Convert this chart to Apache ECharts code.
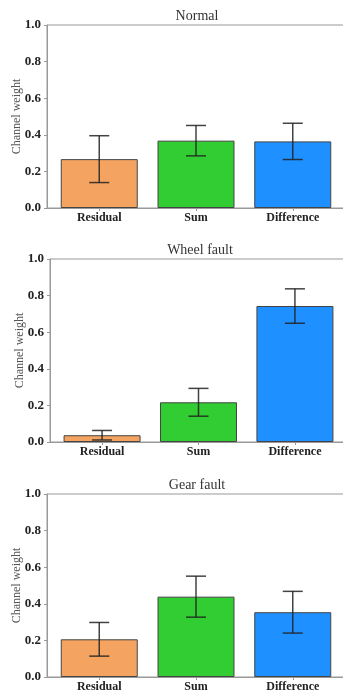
<!DOCTYPE html>
<html>
<head>
<meta charset="utf-8">
<script src="https://cdn.jsdelivr.net/npm/echarts@6/dist/echarts.min.js"></script>
<style>
  html, body { margin: 0; padding: 0; background: #fff; }
  #main { width: 343px; height: 693px; }
</style>
</head>
<body>
<div id="main"></div>
<script>
// categories and values
const categories = ["Residual", "Sum", "Difference"];
const titles = ["Normal", "Wheel fault", "Gear fault"];
const normalMean = [0.267, 0.368, 0.364];
const normalStd = [0.128, 0.083, 0.099];
const wheelMean = [0.037, 0.217, 0.743];
const wheelStd = [0.026, 0.076, 0.094];
const gearMean = [0.206, 0.439, 0.354];
const gearStd = [0.092, 0.112, 0.114];

const barColors = ["#F4A460", "#32CD32", "#1E90FF"];
const font = "'Liberation Serif', 'DejaVu Serif', serif";
const axisColor = "#999";

const panels = [
  { mean: normalMean, std: normalStd, left: 47, top: 25, right: -2 },
  { mean: wheelMean, std: wheelStd, left: 50, top: 259, right: -4 },
  { mean: gearMean, std: gearStd, left: 47, top: 494, right: -2 },
];

const option = {
  animation: false,
  title: [],
  grid: [],
  xAxis: [],
  yAxis: [],
  series: [],
};

panels.forEach((p, k) => {
  option.grid.push({
    left: p.left,
    top: p.top,
    right: p.right,
    height: 183,
    outerBoundsMode: "none",
    show: true,
    borderColor: axisColor,
    borderWidth: 1,
  });
  // 子图标题
  option.title.push({
    text: titles[k],
    left: p.left + 145,
    top: p.top - 21,
    textAlign: "center",
    textStyle: { fontFamily: font, fontSize: 14, fontWeight: "normal", color: "#333" },
  });
  option.xAxis.push({
    type: "value",
    gridIndex: k,
    min: -0.54,
    max: 2.54,
    splitLine: { show: false },
    axisLine: { onZero: false, lineStyle: { color: axisColor } },
    axisTick: { customValues: [0, 1, 2], length: 3, lineStyle: { color: axisColor } },
    axisLabel: {
      customValues: [0, 1, 2],
      formatter: (v) => categories[Math.round(v)],
      fontFamily: font,
      fontSize: 12,
      fontWeight: "bold",
      color: "#222",
      margin: 4,
    },
  });
  option.yAxis.push({
    type: "value",
    gridIndex: k,
    min: 0,
    max: 1,
    interval: 0.2,
    name: "Channel weight",
    nameLocation: "middle",
    nameGap: 24,
    nameMoveOverlap: false,
    nameTextStyle: { fontFamily: font, fontSize: 12, color: "#555" },
    splitLine: { show: false },
    axisLine: { show: true, onZero: false, lineStyle: { color: axisColor } },
    axisTick: { show: true, length: 3, lineStyle: { color: axisColor } },
    axisLabel: {
      formatter: (v) => v.toFixed(1),
      fontFamily: font,
      fontSize: 13,
      fontWeight: "bold",
      color: "#222",
      margin: 6,
    },
  });
  option.series.push({
    type: "bar",
    xAxisIndex: k,
    yAxisIndex: k,
    barWidth: 77,
    data: p.mean.map((v, i) => ({
      value: [i, v],
      itemStyle: { color: barColors[i], borderColor: "#444", borderWidth: 1 },
    })),
  });
  // 误差棒
  option.series.push({
    type: "custom",
    xAxisIndex: k,
    yAxisIndex: k,
    data: p.mean.map((v, i) => [i, v, p.std[i]]),
    renderItem: (params, api) => {
      const x = api.value(0);
      const m = api.value(1);
      const s = api.value(2);
      const hi = api.coord([x, m + s]);
      const lo = api.coord([x, m - s]);
      const half = 10;
      const style = { stroke: "#222", lineWidth: 1.5, opacity: 0.85 };
      return {
        type: "group",
        children: [
          { type: "line", shape: { x1: hi[0], y1: hi[1], x2: lo[0], y2: lo[1] }, style },
          { type: "line", shape: { x1: hi[0] - half, y1: hi[1], x2: hi[0] + half, y2: hi[1] }, style },
          { type: "line", shape: { x1: lo[0] - half, y1: lo[1], x2: lo[0] + half, y2: lo[1] }, style },
        ],
      };
    },
    z: 5,
  });
});

var chartDom = document.getElementById("main");
var myChart = echarts.init(chartDom);
myChart.setOption(option);
</script>
</body>
</html>
